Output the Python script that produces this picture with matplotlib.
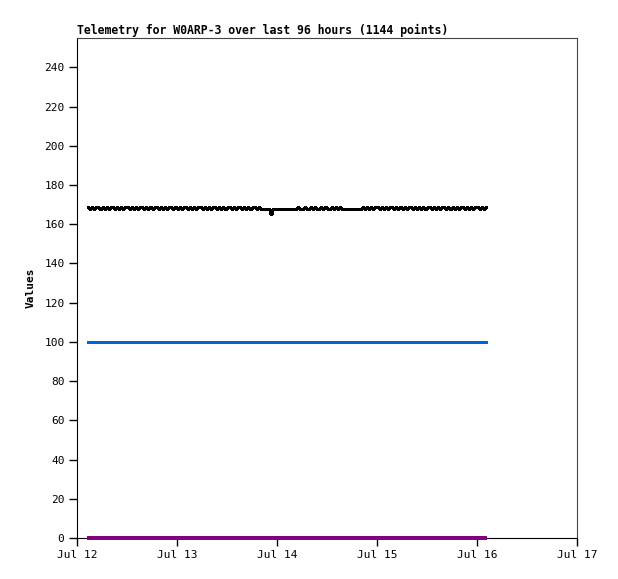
import matplotlib
matplotlib.use("Agg")
import matplotlib.pyplot as plt
import matplotlib.dates as mdates
import numpy as np
import datetime as dt

title = "Telemetry for W0ARP-3 over last 96 hours (1144 points)"
ylabel = "Values"
start_time = dt.datetime(2024, 7, 12, 2, 24)
step_minutes = 30

black_values = [
    169,168,169,168,169,169,168,169,168,169,168,169,169,168,169,168,169,168,169,169,
    168,169,168,169,168,169,169,168,169,168,169,168,169,169,168,169,168,169,168,169,
    169,168,169,168,169,168,169,169,168,169,168,169,168,169,169,168,169,168,169,168,
    169,169,168,169,168,169,168,169,169,168,169,168,169,169,168,169,168,169,168,169,
    169,168,169,168,168,168,168,168,165,168,168,168,168,168,168,168,168,168,168,168,
    168,169,168,168,169,168,168,169,168,169,168,168,169,168,169,168,168,169,168,169,
    168,169,168,168,168,168,168,168,168,168,168,168,169,168,169,168,169,168,169,169,
    168,169,168,169,168,169,169,168,169,168,169,168,169,168,169,169,168,169,168,169,
    168,169,168,169,169,168,169,168,169,168,169,169,168,169,168,169,168,169,168,169,
    169,168,169,168,169,168,169,169,168,169,168,169,169,
]
blue_hours = [0, 96]
blue_values = [100, 100]
purple_hours = [0, 96]
purple_values = [0, 0]

x_start = dt.datetime(2024, 7, 12)
x_end = dt.datetime(2024, 7, 17)
y_max = 255
y_ticks = list(range(0, 241, 20))

mono = "DejaVu Sans Mono"

fig = plt.figure(figsize=(6.18, 5.79), dpi=100)
ax = fig.add_axes([77/618, 41/579, 500/618, 500/579])

black_times = [start_time + dt.timedelta(minutes=step_minutes*i) for i in range(len(black_values))]
blue_times = [start_time + dt.timedelta(hours=h) for h in blue_hours]
purple_times = [start_time + dt.timedelta(hours=h) for h in purple_hours]

ax.plot(blue_times, blue_values, color="#0066cc", lw=2.0, solid_capstyle="butt", antialiased=False)
ax.plot(black_times, black_values, color="black", lw=1.0, drawstyle="steps-post",
        solid_capstyle="butt", antialiased=False)
ax.plot(purple_times, purple_values, color="#800080", lw=1.6, clip_on=False, zorder=5,
        solid_capstyle="butt", antialiased=False)

ax.set_xlim(x_start, x_end)
ax.set_ylim(0, y_max)
ax.set_yticks(y_ticks)
ax.xaxis.set_major_locator(mdates.DayLocator())
ax.xaxis.set_major_formatter(mdates.DateFormatter("%b %d"))

ax.tick_params(direction="out", length=6, width=1, labelsize=8, pad=3, colors="black")
for lab in ax.get_xticklabels() + ax.get_yticklabels():
    lab.set_fontfamily(mono)

for side in ("top", "right"):
    ax.spines[side].set_color("#444444")
for side in ("left", "bottom"):
    ax.spines[side].set_color("black")

ax.set_title(title, loc="left", fontsize=8.3, fontweight="bold", family=mono, pad=3)
ax.set_ylabel(ylabel, fontsize=8, fontweight="bold", family=mono, labelpad=6)

fig.savefig("out.png", dpi=100)
